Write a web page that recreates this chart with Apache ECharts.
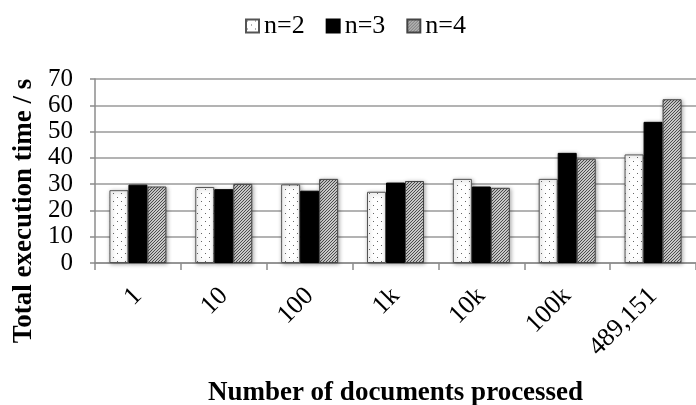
<!DOCTYPE html>
<html>
<head>
<meta charset="utf-8">
<script src="https://cdn.jsdelivr.net/npm/echarts@6/dist/echarts.min.js"></script>
<style>
html,body{margin:0;padding:0;background:#fff;}
#chart{width:696px;height:405px;}
</style>
</head>
<body>
<div id="chart"></div>
<script>
const categories = ['1', '10', '100', '1k', '10k', '100k', '489,151'];
const seriesNames = ['n=2', 'n=3', 'n=4'];
const valuesN2 = [27.7, 28.9, 29.9, 27.1, 32.0, 32.0, 41.3];
const valuesN3 = [29.8, 28.1, 27.5, 30.6, 29.1, 41.9, 53.7];
const valuesN4 = [29.1, 30.1, 32.0, 31.2, 28.6, 39.7, 62.3];
const yMin = 0, yMax = 70, yInterval = 10;
const xTitle = 'Number of documents processed';
const yTitle = 'Total execution time / s';

function dotPattern() {
  const c = document.createElement('canvas');
  c.width = 8; c.height = 8;
  const g = c.getContext('2d');
  g.fillStyle = '#ffffff'; g.fillRect(0, 0, 8, 8);
  g.fillStyle = '#666666';
  g.fillRect(1, 1, 1, 1);
  g.fillRect(5, 5, 1, 1);
  return c;
}
function hatchPattern() {
  const c = document.createElement('canvas');
  c.width = 3; c.height = 3;
  const g = c.getContext('2d');
  g.fillStyle = '#ffffff'; g.fillRect(0, 0, 3, 3);
  g.strokeStyle = '#444444'; g.lineWidth = 1.1;
  g.beginPath();
  g.moveTo(-1, 4); g.lineTo(4, -1);
  g.moveTo(-1, 1); g.lineTo(1, -1);
  g.moveTo(2, 4); g.lineTo(4, 2);
  g.stroke();
  return c;
}

const font = 'Liberation Serif';
const shadow = {shadowColor: 'rgba(0,0,0,0.35)', shadowBlur: 4, shadowOffsetX: 1, shadowOffsetY: 1};

const chart = echarts.init(document.getElementById('chart'), null, {renderer: 'canvas'});
chart.setOption({
  animation: false,
  backgroundColor: '#ffffff',
  textStyle: {fontFamily: font, color: '#000'},
  legend: {
    top: 8, left: 240,
    icon: 'rect',
    itemWidth: 13, itemHeight: 13, itemGap: 21,
    textStyle: {fontFamily: font, fontSize: 26, color: '#000'},
    data: seriesNames
  },
  grid: {left: 95, right: 0, top: 79, bottom: 142, containLabel: false, outerBoundsMode: 'none'},
  xAxis: {
    type: 'category',
    data: categories,
    name: xTitle,
    nameLocation: 'middle',
    nameGap: 117,
    nameTextStyle: {fontFamily: font, fontSize: 27, fontWeight: 'bold', color: '#000'},
    axisLine: {lineStyle: {color: '#8c8c8c', width: 1.5}},
    axisTick: {show: true, interval: 0, length: 7, alignWithLabel: false, lineStyle: {color: '#8c8c8c', width: 1.5}},
    axisLabel: {interval: 0, rotate: 45, margin: 29, fontFamily: font, fontSize: 26, color: '#000'}
  },
  yAxis: {
    type: 'value',
    min: yMin, max: yMax, interval: yInterval,
    name: yTitle,
    nameLocation: 'middle',
    nameGap: 57,
    nameTextStyle: {fontFamily: font, fontSize: 27, fontWeight: 'bold', color: '#000', padding: [0, 80, 0, 0]},
    axisLine: {show: true, lineStyle: {color: '#8c8c8c', width: 1.5}},
    axisTick: {show: true, length: 5, lineStyle: {color: '#8c8c8c', width: 1.5}},
    axisLabel: {margin: 22, fontFamily: font, fontSize: 25, color: '#000'},
    splitLine: {show: true, lineStyle: {color: '#9a9a9a', width: 1.5}}
  },
  series: [
    {name: seriesNames[0], type: 'bar', data: valuesN2, barWidth: 19, barGap: '0%',
     itemStyle: Object.assign({color: {image: dotPattern(), repeat: 'repeat'}, borderColor: '#555', borderWidth: 1}, shadow)},
    {name: seriesNames[1], type: 'bar', data: valuesN3, barWidth: 19, barGap: '0%',
     itemStyle: Object.assign({color: '#000000', borderColor: '#000', borderWidth: 1}, shadow)},
    {name: seriesNames[2], type: 'bar', data: valuesN4, barWidth: 19, barGap: '0%',
     itemStyle: Object.assign({color: {image: hatchPattern(), repeat: 'repeat'}, borderColor: '#444', borderWidth: 1}, shadow)}
  ]
});
</script>
</body>
</html>
